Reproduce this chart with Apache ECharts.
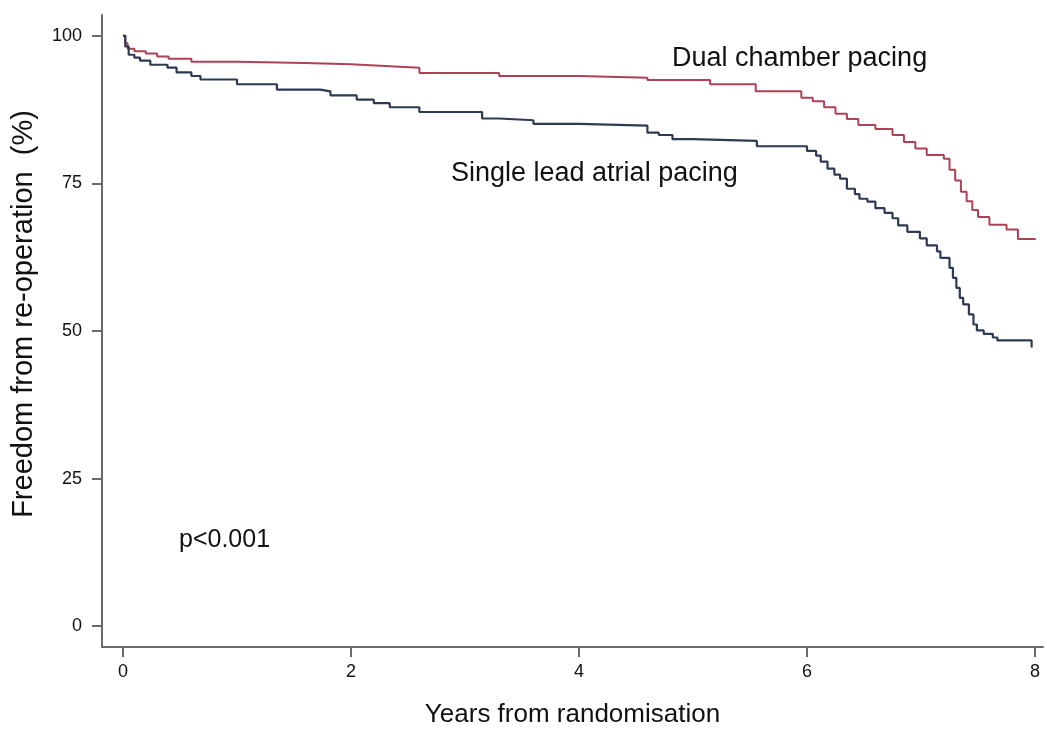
<!DOCTYPE html>
<html>
<head>
<meta charset="utf-8">
<script src="https://cdn.jsdelivr.net/npm/echarts@6/dist/echarts.min.js"></script>
<style>
html,body{margin:0;padding:0;background:#fff;}
#c{width:1047px;height:733px;}
</style>
</head>
<body>
<div id="c"></div>
<script>
// Kaplan-Meier: freedom from re-operation (%)
const dualTimes = [0, 0.02, 0.04, 0.1, 0.2, 0.3, 0.4, 0.6, 1.0, 1.6, 2.0, 2.3, 2.6, 3.3, 4.0, 4.6, 5.15, 5.55, 5.95, 6.05, 6.15, 6.25, 6.35, 6.45, 6.6, 6.75, 6.85, 6.95, 7.05, 7.2, 7.25, 7.3, 7.35, 7.4, 7.45, 7.5, 7.6, 7.75, 7.85, 8.0];
const dualSurv  = [100, 98.8, 97.8, 97.4, 97.0, 96.5, 96.1, 95.6, 95.4, 95.2, 94.9, 94.6, 93.7, 93.2, 92.9, 92.5, 91.8, 90.6, 89.5, 88.9, 87.9, 86.8, 85.9, 84.9, 84.2, 83.2, 82.0, 80.9, 79.8, 79.2, 77.3, 75.5, 73.6, 72.0, 70.5, 69.3, 68.0, 67.2, 65.6, 65.4];

const singleTimes = [0, 0.02, 0.05, 0.1, 0.15, 0.24, 0.39, 0.47, 0.6, 0.68, 1.0, 1.35, 1.73, 1.82, 2.05, 2.2, 2.34, 2.6, 3.15, 3.3, 3.6, 4.0, 4.6, 4.7, 4.82, 5.0, 5.56, 6.0, 6.08, 6.12, 6.18, 6.24, 6.29, 6.35, 6.42, 6.46, 6.53, 6.6, 6.68, 6.75, 6.8, 6.88, 6.99, 7.05, 7.14, 7.17, 7.25, 7.28, 7.31, 7.34, 7.37, 7.42, 7.46, 7.49, 7.55, 7.63, 7.67, 7.95, 7.97];
const singleSurv  = [100, 98.2, 96.8, 96.3, 95.8, 95.1, 94.6, 93.8, 93.2, 92.6, 91.8, 90.9, 90.6, 89.9, 89.2, 88.6, 87.9, 87.1, 86.0, 85.7, 85.1, 84.8, 83.6, 83.2, 82.5, 82.2, 81.3, 80.5, 79.7, 78.7, 77.5, 76.5, 75.8, 74.1, 73.2, 72.4, 71.9, 70.8, 70.0, 69.1, 67.9, 66.8, 65.7, 64.5, 63.5, 62.4, 60.7, 59.0, 57.3, 55.6, 54.5, 52.8, 51.1, 50.1, 49.5, 48.9, 48.4, 48.4, 47.2];

const xTicks = [0, 2, 4, 6, 8];
const yTicks = [0, 25, 50, 75, 100];

const xTitle = 'Years from randomisation';
const yTitle = 'Freedom from re-operation  (%)';
const labelDual = 'Dual chamber pacing';
const labelSingle = 'Single lead atrial pacing';
const pText = 'p<0.001';

const zip = (t, s) => t.map((v, i) => [v, s[i]]);
const FONT = '"Liberation Sans", Arial, sans-serif';

const chart = echarts.init(document.getElementById('c'), null, {renderer: 'canvas'});
chart.setOption({
  animation: false,
  backgroundColor: '#ffffff',
  grid: {left: 102, right: 4, top: 15, bottom: 81, containLabel: false},
  xAxis: {
    type: 'value',
    min: -0.184, max: 8.07,
    name: xTitle,
    nameLocation: 'middle',
    nameGap: 55,
    nameTextStyle: {fontFamily: FONT, fontSize: 26, color: '#111'},
    axisLine: {show: true, onZero: false, lineStyle: {color: '#6b6b6b', width: 2}},
    axisTick: {show: true, length: 10, customValues: xTicks, lineStyle: {color: '#6b6b6b', width: 2}},
    axisLabel: {customValues: xTicks, margin: 16, fontFamily: FONT, fontSize: 18, color: '#111'},
    splitLine: {show: false}
  },
  yAxis: {
    type: 'value',
    min: -3.53, max: 103.53,
    axisLine: {show: true, onZero: false, lineStyle: {color: '#6b6b6b', width: 2}},
    axisTick: {show: true, length: 10, customValues: yTicks, lineStyle: {color: '#6b6b6b', width: 2}},
    axisLabel: {customValues: yTicks, margin: 20, fontFamily: FONT, fontSize: 18, color: '#111'},
    splitLine: {show: false}
  },
  series: [
    {
      name: labelDual,
      type: 'line',
      step: 'end',
      showSymbol: false,
      data: zip(dualTimes, dualSurv),
      lineStyle: {color: '#ad4257', width: 2},
      itemStyle: {color: '#ad4257'}
    },
    {
      name: labelSingle,
      type: 'line',
      step: 'end',
      showSymbol: false,
      data: zip(singleTimes, singleSurv),
      lineStyle: {color: '#2e3a52', width: 2.2},
      itemStyle: {color: '#2e3a52'}
    }
  ],
  graphic: [
    {type: 'text', left: 672, top: 45, style: {text: labelDual, fontFamily: FONT, fontSize: 27, fill: '#111'}},
    {type: 'text', left: 451, top: 160, style: {text: labelSingle, fontFamily: FONT, fontSize: 27, fill: '#111'}},
    {type: 'text', left: 179, top: 528, style: {text: pText, fontFamily: FONT, fontSize: 25, fill: '#111'}},
    {type: 'text', x: 24, y: 314, rotation: Math.PI / 2,
     style: {text: yTitle, fontFamily: FONT, fontSize: 29, fill: '#111', align: 'center', verticalAlign: 'middle'}}
  ]
});
</script>
</body>
</html>
